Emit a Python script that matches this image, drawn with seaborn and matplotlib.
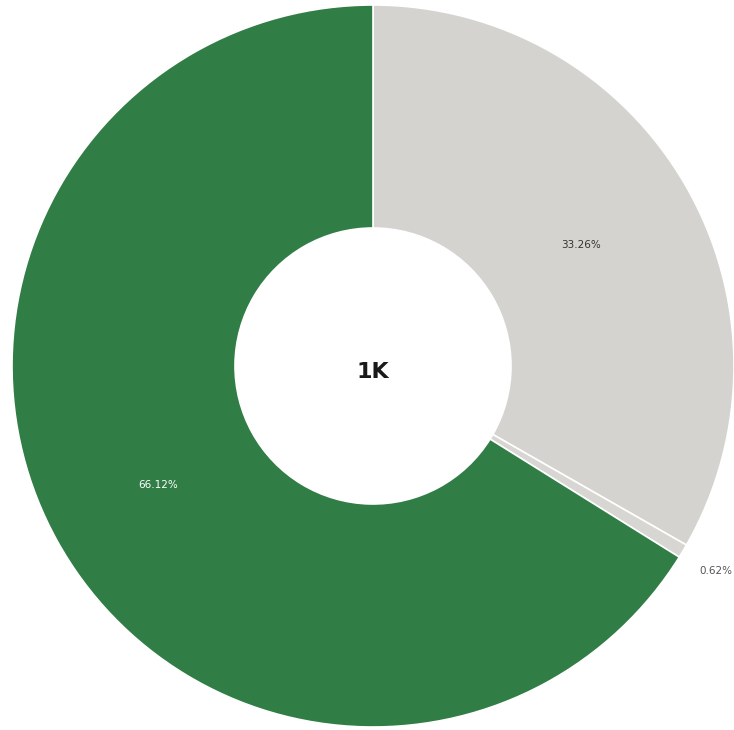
import matplotlib
matplotlib.use("Agg")
import matplotlib.pyplot as plt
import numpy as np
import seaborn as sns

# Share of records per category
categories = ["B", "C", "A"]
shares = [33.26, 0.62, 66.12]
share_labels = ["33.26%", "0.62%", "66.12%"]
center_label = "1K"

sns.set_theme(style="white")
plt.rcParams["font.family"] = ["DejaVu Sans"]

colors = ["#D5D3CF", "#D8D6D2", "#317D46"]
label_colors = ["#333333", "#555555", "#FFFFFF"]
label_radius = [0.667, 1.105, 0.68]   # fraction of the outer radius

W, H = 734, 730
fig = plt.figure(figsize=(W / 100, H / 100), dpi=100)
ax = fig.add_axes([0, 0, 1, 1])

cx, cy = 373, 366          # donut centre in pixels (from top-left)
R = 361                    # outer radius in pixels
hole = 138                 # inner radius in pixels

wedges, texts = ax.pie(
    shares,
    colors=colors,
    startangle=90,
    counterclock=False,
    radius=R,
    labels=share_labels,
    labeldistance=0.67,
    wedgeprops=dict(width=R - hole, edgecolor="white", linewidth=1.2),
    textprops=dict(fontsize=7.5),
)
for w, t, c, d in zip(wedges, texts, label_colors, label_radius):
    mid = np.deg2rad((w.theta1 + w.theta2) / 2)
    t.set_position((R * d * np.cos(mid), R * d * np.sin(mid)))
    t.set_color(c)
    t.set_ha("center")
    t.set_va("center")

ax.text(0, -6, center_label, ha="center", va="center",
        fontsize=16, fontweight="bold", color="#1a1a1a")

# pie() resets the limits, so place the donut afterwards
ax.set_xlim(-cx, W - cx)
ax.set_ylim(-(H - cy), cy)
ax.set_aspect("equal")
ax.axis("off")

fig.savefig("out.png", dpi=100, facecolor="white")
